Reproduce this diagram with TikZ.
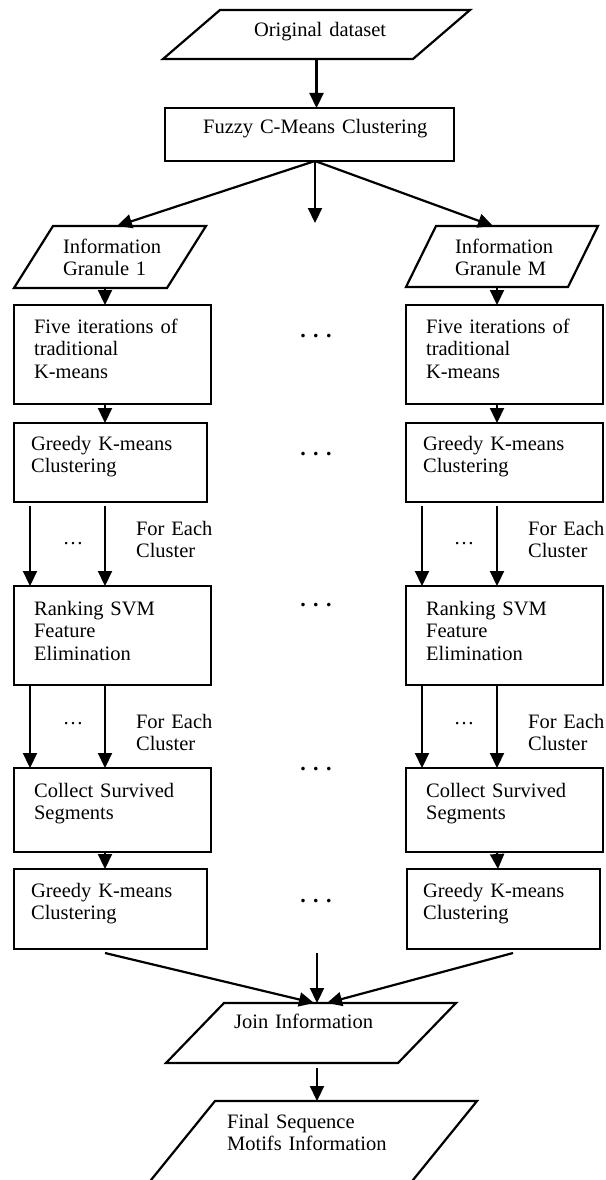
\documentclass[tikz,border=0pt]{standalone}
\usepackage{fontspec}
\setmainfont{Liberation Serif}
\usetikzlibrary{arrows.meta}
\tikzset{->-/.style = {-{Triangle[length=15pt, width=14pt]}}}
\tikzset{stepbox/.style = {draw, rectangle, inner sep = 0, outer sep = 0}}
\tikzset{iobody/.style = {rectangle, inner sep = 0, outer sep = 0}}
\tikzset{txt/.style = {anchor = base west, align = left, inner sep = 0, text width = 260pt}}
\tikzset{bigdots/.style = {anchor = base, inner sep = 0, font = \fontsize{22}{22}\selectfont\bfseries}}
% parallelogram round the body node #1, slanted by 2*#2
\newcommand{\ioshape}[2]{\draw ([xshift=-#2pt]#1.south west) -- ([xshift=#2pt]#1.north west)
                               -- ([xshift=#2pt]#1.north east) -- ([xshift=-#2pt]#1.south east) -- cycle;}

\begin{document}
\begin{tikzpicture}[x=1pt, y=-1pt, line width=2.2pt, font=\fontsize{20.5}{22.7}\selectfont]
      \useasboundingbox (0, 0) rectangle (605, 1180);
      \clip (0, 0) rectangle (605, 1180);

      % top part
      \node [iobody, minimum width=250pt, minimum height=49pt] (orig) at (316.5, 34.5) {};
      \ioshape{orig}{28.5}
      \node [txt] (origt) at (253, 37) {Original dataset};
      \node [stepbox, minimum width=289pt, minimum height=53pt] (fuzzy) at (309.5, 134.5) {};
      \node [txt] (fuzzyt) at (202, 133) {Fuzzy C-Means Clustering};

      \node [iobody, minimum width=153pt, minimum height=62pt] (gran1) at (110, 257) {};
      \ioshape{gran1}{19.5}
      \node [txt] (gran1t) at (62, 253) {Information\\Granule 1};
      \node [iobody, minimum width=162pt, minimum height=61pt] (granM) at (502, 256.5) {};
      \ioshape{granM}{15}
      \node [txt] (granMt) at (454, 253) {Information\\Granule M};

      % left column
      \node [stepbox, minimum width=197pt, minimum height=99pt] (five1) at (112.5, 354.5) {};
      \node [txt] (five1t) at (33, 333) {Five iterations of\\traditional\\K-means};
      \node [stepbox, minimum width=193pt, minimum height=79pt] (greedy1) at (110.5, 462.5) {};
      \node [txt] (greedy1t) at (30, 450) {Greedy K-means\\Clustering};
      \node [stepbox, minimum width=197pt, minimum height=99pt] (rank1) at (112.5, 635.5) {};
      \node [txt] (rank1t) at (33, 615) {Ranking SVM\\Feature\\Elimination};
      \node [stepbox, minimum width=197pt, minimum height=84pt] (coll1) at (112.5, 810) {};
      \node [txt] (coll1t) at (33, 797) {Collect Survived\\Segments};
      \node [stepbox, minimum width=193pt, minimum height=80pt] (regreedy1) at (110.5, 909) {};
      \node [txt] (regreedy1t) at (30, 897) {Greedy K-means\\Clustering};
      \node [txt] (each1a) at (135, 535) {For Each\\Cluster};
      \node [txt] (each1b) at (135, 728) {For Each\\Cluster};
      \node [anchor=base, inner sep=0] (few1a) at (73, 544) {\ldots};
      \node [anchor=base, inner sep=0] (few1b) at (73, 724) {\ldots};

      % right column
      \node [stepbox, minimum width=197pt, minimum height=99pt] (fiveM) at (504.5, 354.5) {};
      \node [txt] (fiveMt) at (425, 333) {Five iterations of\\traditional\\K-means};
      \node [stepbox, minimum width=197pt, minimum height=79pt] (greedyM) at (504.5, 462.5) {};
      \node [txt] (greedyMt) at (422, 450) {Greedy K-means\\Clustering};
      \node [stepbox, minimum width=197pt, minimum height=99pt] (rankM) at (504.5, 635.5) {};
      \node [txt] (rankMt) at (425, 615) {Ranking SVM\\Feature\\Elimination};
      \node [stepbox, minimum width=197pt, minimum height=84pt] (collM) at (504.5, 810) {};
      \node [txt] (collMt) at (425, 797) {Collect Survived\\Segments};
      \node [stepbox, minimum width=193pt, minimum height=80pt] (regreedyM) at (503.5, 909) {};
      \node [txt] (regreedyMt) at (422, 897) {Greedy K-means\\Clustering};
      \node [txt] (eachMa) at (527, 535) {For Each\\Cluster};
      \node [txt] (eachMb) at (527, 728) {For Each\\Cluster};
      \node [anchor=base, inner sep=0] (fewMa) at (464, 544) {\ldots};
      \node [anchor=base, inner sep=0] (fewMb) at (464, 724) {\ldots};

      % dots between the columns
      \node [bigdots] (mdots1) at (316, 337) {. . .};
      \node [bigdots] (mdots2) at (316, 455) {. . .};
      \node [bigdots] (mdots3) at (316, 606) {. . .};
      \node [bigdots] (mdots4) at (316, 770) {. . .};
      \node [bigdots] (mdots5) at (316, 902) {. . .};

      % bottom part
      \node [iobody, minimum width=232pt, minimum height=60pt] (join) at (311, 1033) {};
      \ioshape{join}{29}
      \node [txt] (joint) at (233, 1028) {Join Information};
      \node [iobody, minimum width=262pt, minimum height=100pt] (final) at (305.5, 1151) {};
      \ioshape{final}{40.5}
      \node [txt] (finalt) at (226, 1128) {Final Sequence\\Motifs Information};

      % connectors
      \draw [->-] (orig.south) -- (orig.south |- fuzzy.north);
      \coordinate (fork) at ([xshift=5.5pt]fuzzy.south);
      \coordinate (forkend) at (315, 223);
      \draw [->-] (fork) -- ([xshift=7pt]gran1.north);
      \draw [->-] (fork) -- (forkend);
      \draw [->-] (fork) -- ([xshift=-9pt]granM.north);

      \coordinate (in1) at ([xshift=91pt]five1.north west);
      \coordinate (inM) at ([xshift=91pt]fiveM.north west);
      \draw [->-] (gran1.south -| in1) -- (in1);
      \draw [->-] (granM.south -| inM) -- (inM);

      \draw [->-] ([xshift=91pt]five1.south west) -- ([xshift=91pt]greedy1.north west);
      \draw [->-] ([xshift=91pt]fiveM.south west) -- ([xshift=91pt]greedyM.north west);

      \draw [->-] ([xshift=16pt, yshift=-4pt]greedy1.south west) -- ([xshift=16pt]rank1.north west);
      \draw [->-] ([xshift=91pt, yshift=-4pt]greedy1.south west) -- ([xshift=91pt]rank1.north west);
      \draw [->-] ([xshift=16pt, yshift=-4pt]greedyM.south west) -- ([xshift=16pt]rankM.north west);
      \draw [->-] ([xshift=91pt, yshift=-4pt]greedyM.south west) -- ([xshift=91pt]rankM.north west);

      \draw [->-] ([xshift=16pt]rank1.south west) -- ([xshift=16pt]coll1.north west);
      \draw [->-] ([xshift=91pt]rank1.south west) -- ([xshift=91pt]coll1.north west);
      \draw [->-] ([xshift=16pt]rankM.south west) -- ([xshift=16pt]collM.north west);
      \draw [->-] ([xshift=91pt]rankM.south west) -- ([xshift=91pt]collM.north west);

      \draw [->-] ([xshift=91pt]coll1.south west) -- ([xshift=91pt]regreedy1.north west);
      \draw [->-] ([xshift=91pt]collM.south west) -- ([xshift=91pt]regreedyM.north west);

      \coordinate (midstart) at (317, 953);
      \draw [->-] ([xshift=91pt, yshift=-4pt]regreedy1.south west) -- ([xshift=3pt]join.north);
      \draw [->-] (midstart) -- (midstart |- join.north);
      \draw [->-] ([xshift=106pt, yshift=-4pt]regreedyM.south west) -- ([xshift=16pt]join.north);

      \coordinate (joinout) at ([xshift=6pt, yshift=-5pt]join.south);
      \draw [->-] (joinout) -- (joinout |- final.north);
\end{tikzpicture}
\end{document}
